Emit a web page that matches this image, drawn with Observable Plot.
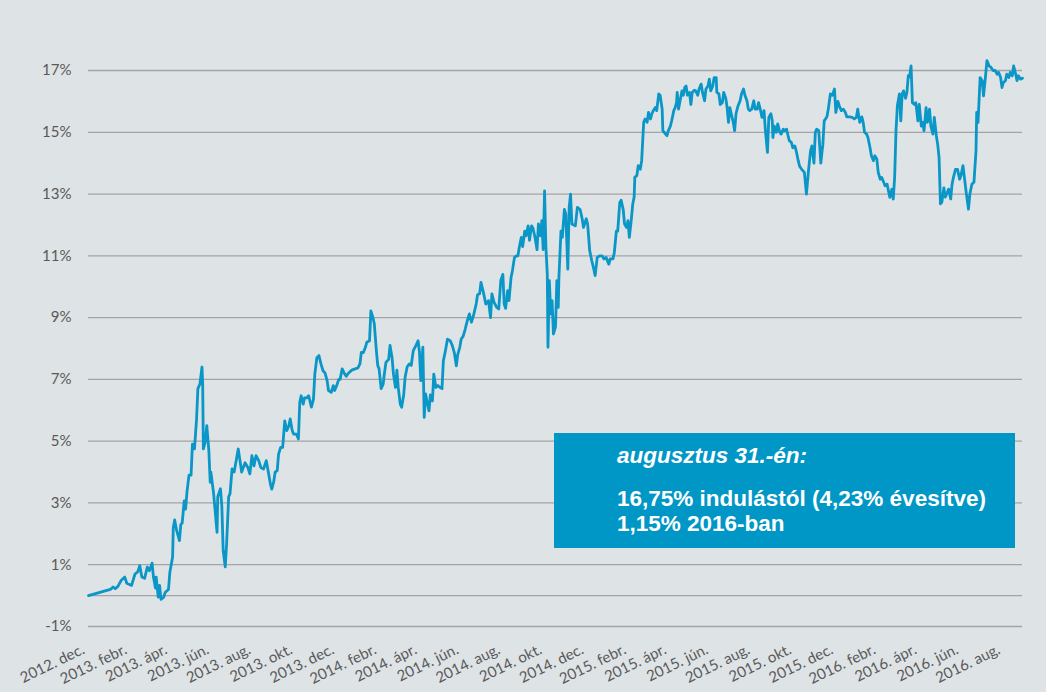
<!DOCTYPE html>
<html>
<head>
<meta charset="utf-8">
<script src="https://cdn.jsdelivr.net/npm/d3@7"></script>
<script src="https://cdn.jsdelivr.net/npm/@observablehq/plot@0.6"></script>
<style>
  html, body { margin: 0; padding: 0; background: #dee3e6; }
  #wrap { position: relative; width: 1046px; height: 692px; background: #dee3e6; overflow: hidden; }
  #box { position: absolute; left: 554px; top: 433px; width: 461px; height: 115px; background: #0096c6; color: #fff;
         font-family: "Liberation Sans", Arial, sans-serif; font-weight: bold; font-size: 22.5px; }
  #box div { position: absolute; left: 63px; white-space: nowrap; line-height: 22px; }
</style>
</head>
<body>
<div id="wrap">
  <div id="chart"></div>
  <div id="box">
    <div style="top:12px;font-style:italic;">augusztus 31.-én:</div>
    <div style="top:55px;">16,75% indulástól (4,23% évesítve)</div>
    <div style="top:80px;">1,15% 2016-ban</div>
  </div>
</div>
<script>
const dates = [
"2012-12-04","2013-01-05","2013-01-09","2013-01-12","2013-01-16","2013-01-21","2013-01-26","2013-01-29","2013-02-05","2013-02-10",
"2013-02-14","2013-02-17","2013-02-20","2013-02-24","2013-02-28","2013-03-03","2013-03-07","2013-03-09","2013-03-12","2013-03-13",
"2013-03-16","2013-03-18","2013-03-20","2013-03-24","2013-03-26","2013-03-31","2013-04-02","2013-04-06","2013-04-07","2013-04-09",
"2013-04-12","2013-04-16","2013-04-18","2013-04-20","2013-04-23","2013-04-25","2013-04-27","2013-04-30","2013-05-03","2013-05-05",
"2013-05-08","2013-05-11","2013-05-13","2013-05-16","2013-05-19","2013-05-20","2013-05-21","2013-05-24","2013-05-26","2013-05-29",
"2013-05-31","2013-06-01","2013-06-05","2013-06-07","2013-06-10","2013-06-11","2013-06-15","2013-06-17","2013-06-19","2013-06-22",
"2013-06-24","2013-06-27","2013-06-29","2013-07-02","2013-07-05","2013-07-08","2013-07-11","2013-07-16","2013-07-21","2013-07-25",
"2013-07-28","2013-07-31","2013-08-03","2013-08-06","2013-08-10","2013-08-13","2013-08-17","2013-08-21","2013-08-24","2013-08-27",
"2013-08-29","2013-09-01","2013-09-03","2013-09-06","2013-09-08","2013-09-11","2013-09-14","2013-09-17","2013-09-20","2013-09-23",
"2013-09-25","2013-09-28","2013-09-30","2013-10-04","2013-10-07","2013-10-09","2013-10-11","2013-10-14","2013-10-16","2013-10-19",
"2013-10-22","2013-10-26","2013-10-29","2013-10-31","2013-11-03","2013-11-06","2013-11-09","2013-11-12","2013-11-15","2013-11-18",
"2013-11-20","2013-11-24","2013-11-27","2013-11-29","2013-12-02","2013-12-05","2013-12-07","2013-12-10","2013-12-13","2013-12-16",
"2013-12-19","2013-12-24","2013-12-29","2014-01-02","2014-01-05","2014-01-07","2014-01-10","2014-01-13","2014-01-15","2014-01-19",
"2014-01-21","2014-01-24","2014-01-26","2014-01-29","2014-01-31","2014-02-02","2014-02-05","2014-02-08","2014-02-09","2014-02-12",
"2014-02-16","2014-02-18","2014-02-21","2014-02-23","2014-02-26","2014-02-28","2014-03-02","2014-03-05","2014-03-07","2014-03-10",
"2014-03-12","2014-03-15","2014-03-18","2014-03-21","2014-03-24","2014-03-28","2014-03-31","2014-04-02","2014-04-04","2014-04-07",
"2014-04-09","2014-04-11","2014-04-13","2014-04-16","2014-04-18","2014-04-21","2014-04-23","2014-04-26","2014-04-29","2014-05-02",
"2014-05-05","2014-05-07","2014-05-10","2014-05-13","2014-05-17","2014-05-20","2014-05-23","2014-05-26","2014-05-28","2014-05-31",
"2014-06-02","2014-06-05","2014-06-08","2014-06-11","2014-06-14","2014-06-17","2014-06-20","2014-06-24","2014-06-26","2014-06-29",
"2014-07-01","2014-07-05","2014-07-08","2014-07-12","2014-07-15","2014-07-17","2014-07-20","2014-07-24","2014-07-27","2014-07-30",
"2014-08-02","2014-08-04","2014-08-06","2014-08-09","2014-08-11","2014-08-14","2014-08-16","2014-08-19","2014-08-22","2014-08-24",
"2014-08-26","2014-08-29","2014-08-31","2014-09-03","2014-09-05","2014-09-08","2014-09-10","2014-09-13","2014-09-15","2014-09-18",
"2014-09-21","2014-09-23","2014-09-26","2014-09-28","2014-09-30","2014-10-02","2014-10-04","2014-10-06","2014-10-07","2014-10-09",
"2014-10-11","2014-10-13","2014-10-15","2014-10-18","2014-10-20","2014-10-22","2014-10-23","2014-10-26","2014-10-28","2014-10-31",
"2014-11-02","2014-11-05","2014-11-07","2014-11-09","2014-11-11","2014-11-16","2014-11-19","2014-11-23","2014-11-26","2014-11-28",
"2014-12-02","2014-12-04","2014-12-07","2014-12-10","2014-12-13","2014-12-15","2014-12-18","2014-12-22","2014-12-25","2014-12-28",
"2014-12-31","2015-01-04","2015-01-06","2015-01-10","2015-01-12","2015-01-15","2015-01-17","2015-01-20","2015-01-22","2015-01-25",
"2015-01-27","2015-01-30","2015-02-01","2015-02-03","2015-02-06","2015-02-08","2015-02-10","2015-02-11","2015-02-14","2015-02-16",
"2015-02-19","2015-02-21","2015-02-24","2015-02-26","2015-03-01","2015-03-03","2015-03-06","2015-03-08","2015-03-10","2015-03-13",
"2015-03-15","2015-03-18","2015-03-20","2015-03-23","2015-03-24","2015-03-28","2015-03-30","2015-04-01","2015-04-04","2015-04-06",
"2015-04-09","2015-04-11","2015-04-13","2015-04-14","2015-04-16","2015-04-18","2015-04-21","2015-04-23","2015-04-25","2015-04-27",
"2015-04-29","2015-05-02","2015-05-04","2015-05-06","2015-05-09","2015-05-11","2015-05-14","2015-05-16","2015-05-19","2015-05-21",
"2015-05-24","2015-05-26","2015-05-29","2015-05-31","2015-06-02","2015-06-05","2015-06-07","2015-06-10","2015-06-11","2015-06-14",
"2015-06-16","2015-06-19","2015-06-21","2015-06-24","2015-06-26","2015-06-28","2015-06-30","2015-07-02","2015-07-05","2015-07-07",
"2015-07-09","2015-07-12","2015-07-15","2015-07-17","2015-07-20","2015-07-22","2015-07-25","2015-07-27","2015-07-29","2015-08-01",
"2015-08-04","2015-08-06","2015-08-09","2015-08-11","2015-08-14","2015-08-16","2015-08-19","2015-08-21","2015-08-24","2015-08-26",
"2015-08-29","2015-08-31","2015-09-01","2015-09-03","2015-09-06","2015-09-08","2015-09-11","2015-09-13","2015-09-16","2015-09-18",
"2015-09-21","2015-09-23","2015-09-25","2015-09-28","2015-09-30","2015-10-03","2015-10-05","2015-10-08","2015-10-10","2015-10-13",
"2015-10-17","2015-10-20","2015-10-23","2015-10-26","2015-10-28","2015-10-31","2015-11-02","2015-11-04","2015-11-07","2015-11-10",
"2015-11-13","2015-11-15","2015-11-19","2015-11-21","2015-11-24","2015-11-27","2015-11-30","2015-12-02","2015-12-05","2015-12-07",
"2015-12-10","2015-12-13","2015-12-16","2015-12-18","2015-12-22","2015-12-26","2015-12-29","2016-01-01","2016-01-03","2016-01-06",
"2016-01-09","2016-01-11","2016-01-13","2016-01-16","2016-01-18","2016-01-21","2016-01-23","2016-01-26","2016-01-28","2016-01-31",
"2016-02-02","2016-02-05","2016-02-07","2016-02-10","2016-02-12","2016-02-15","2016-02-17","2016-02-19","2016-02-22","2016-02-24",
"2016-02-26","2016-02-28","2016-03-01","2016-03-04","2016-03-06","2016-03-08","2016-03-10","2016-03-13","2016-03-15","2016-03-17",
"2016-03-19","2016-03-21","2016-03-23","2016-03-26","2016-03-28","2016-03-31","2016-04-02","2016-04-05","2016-04-07","2016-04-09",
"2016-04-12","2016-04-14","2016-04-17","2016-04-19","2016-04-22","2016-04-24","2016-04-27","2016-04-29","2016-05-01","2016-05-03",
"2016-05-05","2016-05-08","2016-05-10","2016-05-13","2016-05-15","2016-05-18","2016-05-20","2016-05-22","2016-05-25","2016-05-28",
"2016-05-31","2016-06-02","2016-06-05","2016-06-07","2016-06-10","2016-06-13","2016-06-15","2016-06-18","2016-06-21","2016-06-24",
"2016-06-25","2016-06-27","2016-06-29","2016-06-30","2016-07-03","2016-07-05","2016-07-08","2016-07-10","2016-07-13","2016-07-16",
"2016-07-19","2016-07-22","2016-07-25","2016-07-27","2016-07-30","2016-08-01","2016-08-03","2016-08-06","2016-08-08","2016-08-11",
"2016-08-13","2016-08-16","2016-08-18","2016-08-21","2016-08-23","2016-08-25","2016-08-28","2016-08-31"
];
const returns = [
0.0,0.2,0.28,0.22,0.3,0.5,0.6,0.4,0.33,0.7,
0.77,0.97,0.6,0.56,0.92,0.8,1.05,0.6,0.24,0.6,
-0.05,0.33,-0.12,-0.05,0.1,0.2,0.76,1.25,2.2,2.45,
2.1,1.78,2.3,2.35,3.07,2.8,3.35,3.9,3.9,4.9,
4.75,5.7,6.7,6.85,7.4,6.85,4.75,5.0,5.5,4.7,
3.67,4.0,3.3,2.8,2.05,3.2,3.46,2.9,1.46,0.93,
1.68,3.2,3.3,4.1,4.0,4.37,4.75,4.0,4.3,4.15,
3.94,4.53,4.2,4.53,4.37,4.15,4.1,4.37,4.0,3.62,
3.45,3.7,4.0,4.05,4.58,4.8,4.8,5.66,5.34,5.5,
5.72,5.34,5.23,5.23,5.07,6.26,6.47,6.2,6.4,6.4,
6.47,6.1,6.35,7.17,7.7,7.77,7.5,7.28,7.2,6.96,
6.64,6.58,6.8,6.64,6.8,7.0,7.0,7.34,7.2,7.1,
7.2,7.3,7.34,7.37,7.5,7.87,7.87,8.04,8.2,8.25,
9.22,9.0,8.8,7.93,7.45,7.34,6.7,6.85,7.06,7.55,
7.65,8.1,7.7,7.17,6.74,7.3,6.74,6.2,6.1,6.5,
7.06,7.4,7.5,7.45,7.93,8.1,8.25,7.9,6.96,8.04,
5.77,6.53,6.3,5.98,6.5,6.3,7.17,6.74,6.8,6.74,
6.7,7.6,7.93,8.3,8.25,8.1,7.87,7.44,7.8,8.04,
8.3,8.4,8.63,8.9,9.12,8.85,9.06,9.44,9.74,9.77,
10.14,9.77,9.44,9.55,9.0,9.77,9.5,9.33,9.28,10.2,
10.4,9.44,9.3,9.87,9.55,10.3,10.52,10.95,11.0,11.0,
11.27,11.6,11.3,11.8,11.65,11.97,11.5,11.97,11.9,11.6,
11.2,12.03,11.65,12.14,11.2,13.1,11.27,10.4,8.04,10.2,
9.12,9.55,8.47,8.7,10.2,9.33,10.3,11.8,11.6,12.5,
12.35,10.57,12.57,13.0,12.03,11.97,12.57,12.5,12.2,11.92,
12.2,12.03,11.17,10.85,10.57,10.36,10.95,11.0,11.0,10.9,
10.95,10.73,10.9,10.9,11.1,11.8,11.8,12.73,12.8,12.5,
12.03,11.92,12.14,11.6,12.2,12.68,12.9,13.54,13.6,13.92,
13.8,14.08,15.32,15.43,15.32,15.64,15.43,15.6,15.7,15.8,
15.7,16.24,16.2,15.75,15.05,14.94,14.89,15.05,15.2,15.38,
15.7,15.8,15.96,16.29,15.75,16.0,16.34,16.2,16.45,16.5,
16.2,16.29,15.9,16.29,16.36,16.34,16.2,16.4,16.56,16.29,
16.02,16.4,16.5,16.72,16.34,16.5,16.77,16.77,16.29,16.24,
15.9,15.96,16.29,16.1,15.8,15.32,15.8,15.6,15.32,15.05,
15.6,15.86,16.02,16.24,16.4,16.2,16.02,15.75,15.7,15.75,
16.02,15.75,15.75,15.96,15.7,15.48,15.7,15.05,14.35,15.48,
15.6,15.38,14.83,15.2,15.0,15.27,15.0,14.94,15.1,15.05,
15.1,14.9,14.73,14.67,14.5,14.56,14.4,14.08,13.9,13.8,
13.7,13.0,13.75,14.4,14.56,14.0,15.0,15.1,15.05,14.0,
14.6,15.37,15.5,15.75,16.24,16.2,16.4,15.64,16.0,15.86,
15.7,15.75,15.64,15.5,15.5,15.48,15.43,15.48,15.75,15.32,
15.5,15.32,15.0,14.94,14.83,14.5,14.24,14.08,14.24,14.13,
13.7,13.48,13.54,13.38,13.27,13.32,13.1,12.89,13.16,12.84,
13.54,15.05,15.86,16.24,15.37,16.24,16.34,16.1,16.3,16.83,
16.8,17.15,15.96,15.9,15.96,15.37,15.9,15.2,15.32,15.05,
15.8,15.32,15.75,15.2,14.94,15.48,14.89,14.6,14.18,12.68,
12.73,13.2,12.9,13.05,13.16,12.84,13.32,13.54,13.8,13.8,
13.48,13.6,13.92,13.54,13.0,12.51,13.0,13.32,13.38,14.4,
15.64,15.32,16.29,16.77,16.67,16.18,16.83,17.32,17.15,17.1,
17.0,17.0,16.88,16.94,16.77,16.45,16.61,16.67,16.88,16.77,
16.94,16.83,17.15,16.88,16.67,16.83,16.72,16.75
];
const yTicks = [-1, 1, 3, 5, 7, 9, 11, 13, 15, 17];
const gridLines = [-1, 0, 1, 3, 5, 7, 9, 11, 13, 15, 17];
const xTickDates = ["2012-12-01","2013-02-01","2013-04-01","2013-06-01","2013-08-01","2013-10-01","2013-12-01",
  "2014-02-01","2014-04-01","2014-06-01","2014-08-01","2014-10-01","2014-12-01","2015-02-01","2015-04-01",
  "2015-06-01","2015-08-01","2015-10-01","2015-12-01","2016-02-01","2016-04-01","2016-06-01","2016-08-01"];
const xTickLabels = ["2012. dec.","2013. febr.","2013. ápr.","2013. jún.","2013. aug.","2013. okt.","2013. dec.",
  "2014. febr.","2014. ápr.","2014. jún.","2014. aug.","2014. okt.","2014. dec.","2015. febr.","2015. ápr.",
  "2015. jún.","2015. aug.","2015. okt.","2015. dec.","2016. febr.","2016. ápr.","2016. jún.","2016. aug."];

const series = dates.map((d, i) => ({date: new Date(d + "T00:00:00Z"), value: returns[i]}));
const ticks = xTickDates.map(d => new Date(d + "T00:00:00Z"));
const labelOf = new Map(ticks.map((t, i) => [+t, xTickLabels[i]]));

const chart = Plot.plot({
  width: 1046, height: 692,
  marginLeft: 88, marginRight: 24, marginTop: 70, marginBottom: 66,
  style: {background: "transparent", fontFamily: "Lato, 'Open Sans', sans-serif", overflow: "visible"},
  x: {type: "utc", domain: [new Date("2012-12-04T00:00:00Z"), new Date("2016-08-31T00:00:00Z")]},
  y: {domain: [-1, 17]},
  marks: [
    Plot.ruleY(gridLines, {stroke: "#a4a4a4", strokeWidth: 1.3}),
    Plot.axisY(yTicks, {tickSize: 0, tickPadding: 17, tickFormat: d => d + "%", fontSize: 15, color: "#595959", label: null}),
    Plot.axisX(ticks, {tickSize: 0, tickRotate: -26, tickPadding: 22, tickFormat: d => labelOf.get(+d), fontSize: 15, color: "#595959", label: null, dx: -3}),
    Plot.line(series, {x: "date", y: "value", stroke: "#0a96c6", strokeWidth: 2.8, strokeLinejoin: "round"})
  ]
});
document.getElementById("chart").appendChild(chart);
</script>
</body>
</html>
